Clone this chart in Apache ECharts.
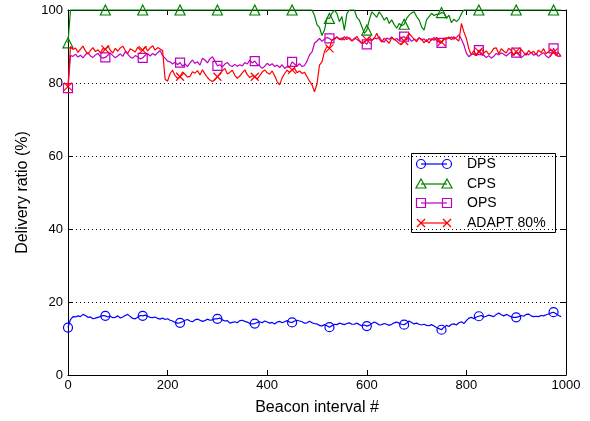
<!DOCTYPE html>
<html>
<head>
<meta charset="utf-8">
<script src="https://cdn.jsdelivr.net/npm/echarts@6/dist/echarts.min.js"></script>
<style>
  html, body { margin: 0; padding: 0; background: #fff; }
  #chart { width: 590px; height: 421px; }
</style>
</head>
<body>
<div id="chart"></div>
<script>
// Delivery ratio (%) per beacon interval, sampled every STEP intervals (0 .. 990)
const STEP = 5;

const dps = [
  13.0,15.2,16.0,15.9,16.2,16.0,16.6,16.3,15.8,15.9,
  15.4,15.6,15.8,16.0,16.3,16.2,15.9,16.1,15.7,15.8,
  16.2,15.6,15.9,16.3,16.6,16.0,15.5,15.4,15.8,16.3,
  16.2,16.4,16.1,15.8,15.7,15.9,15.5,15.3,15.6,15.2,
  15.4,15.0,14.8,14.4,14.2,14.3,14.6,15.0,15.2,14.8,
  14.6,15.1,15.3,15.0,14.7,14.9,15.3,15.0,15.1,15.4,
  15.4,15.6,15.1,14.8,14.9,14.2,14.4,14.6,14.3,14.9,
  15.0,14.7,14.5,14.1,14.0,14.1,14.4,14.6,14.3,14.8,
  14.5,14.2,14.4,14.0,14.5,14.7,14.3,14.6,14.9,14.5,
  14.4,14.8,15.0,14.8,14.6,14.2,14.3,14.7,14.3,14.1,
  14.0,13.6,13.4,13.8,13.5,13.1,13.5,13.9,13.8,14.2,
  14.0,13.8,14.1,14.3,13.9,13.9,14.2,13.8,13.5,13.7,
  13.4,13.6,14.1,14.5,14.2,13.7,13.8,14.1,13.9,13.6,
  13.9,14.3,14.5,14.2,13.9,13.8,14.2,14.8,14.4,14.0,
  14.2,13.9,13.7,13.9,13.6,13.5,13.8,13.4,13.0,12.7,
  12.4,13.1,13.6,13.3,13.9,14.0,13.7,14.3,14.6,14.1,
  14.9,15.6,15.8,15.4,15.9,16.1,16.3,15.9,16.1,16.4,
  16.2,16.0,16.6,17.0,16.5,16.2,16.6,16.3,15.9,15.8,
  15.8,16.0,16.3,16.1,16.6,16.7,16.2,16.0,16.1,16.0,
  16.3,16.2,16.5,16.7,17.0,17.2,16.8,16.3,16.0
];

const cps = [
  91.0,100,100,100,100,100,100,100,100,100,
  100,100,100,100,100,100,100,100,100,100,
  100,100,100,100,100,100,100,100,100,100,
  100,100,100,100,100,100,100,100,100,100,
  100,100,100,100,100,100,100,100,100,100,
  100,100,100,100,100,100,100,100,100,100,
  100,100,100,100,100,100,100,100,100,100,
  100,100,100,100,100,100,100,100,100,100,
  100,100,100,100,100,100,100,100,100,100,
  100,100,100,100,100,100,100,100,100,98.5,
  96.0,95.2,93.0,94.5,97.8,97.7,99.1,100,99.0,96.8,
  98.2,94.5,99.0,100,100,100,98.0,97.2,95.5,93.6,
  94.5,97.3,99.5,98.8,98.0,99.5,98.5,97.2,98.0,96.3,
  97.3,96.0,95.0,96.3,95.7,96.1,97.7,98.6,99.2,99.5,
  98.2,97.3,95.4,94.5,97.3,98.2,99.1,98.5,98.8,98.8,
  99.3,99.1,97.7,98.6,96.5,97.5,96.8,97.5,99.0,100,
  100,100,100,100,100,100,100,100,100,100,
  100,100,100,100,100,100,100,100,100,100,
  100,100,100,100,100,100,100,100,100,100,
  100,100,100,100,100,100,100,100,100
];

const ops = [
  78.6,87.5,87.3,87.9,87.1,87.6,86.9,87.8,88.3,87.4,
  87.0,87.7,88.1,87.2,86.8,87.0,87.6,88.2,87.5,86.9,
  87.4,88.0,87.3,88.6,87.9,87.1,86.8,87.5,87.2,86.6,
  86.9,87.6,88.0,87.4,88.1,87.6,88.3,88.9,87.5,86.8,
  86.0,85.8,85.2,85.7,85.0,85.6,84.6,85.2,84.5,85.5,
  86.3,85.4,85.8,84.9,86.8,86.3,85.5,86.6,87.2,86.0,
  84.7,85.0,84.4,85.2,85.6,84.8,84.5,85.1,84.6,85.0,
  84.7,85.6,85.2,86.3,85.5,86.0,85.1,84.7,84.0,84.6,
  85.4,84.8,85.3,84.5,84.9,84.2,85.0,84.0,84.5,84.3,
  85.8,85.2,84.6,85.3,84.5,84.8,86.0,87.7,88.5,90.9,
  91.5,92.2,91.4,92.0,92.5,92.2,91.6,92.3,92.6,91.9,
  92.4,91.8,92.7,92.1,91.5,92.3,92.0,91.4,90.8,91.2,
  90.6,92.0,91.6,92.4,92.1,92.7,91.5,91.2,92.3,92.0,
  92.6,91.8,92.2,91.6,92.5,92.7,91.9,92.3,91.4,92.0,
  91.7,92.4,91.8,92.1,91.3,92.2,91.7,92.5,91.6,91.2,
  91.0,92.0,92.4,92.2,92.6,92.0,92.5,93.2,92.0,90.4,
  88.1,87.2,87.8,88.0,87.5,89.0,88.2,87.6,87.0,87.5,
  86.8,87.3,88.1,87.7,88.3,87.9,87.4,88.0,88.5,87.6,
  88.3,87.8,86.9,87.5,88.2,87.7,88.4,87.6,88.0,87.3,
  87.9,88.3,87.4,86.9,87.6,89.5,88.0,87.2,87.7
];

const adapt = [
  79.0,90.0,89.2,89.6,88.4,89.3,90.1,88.8,87.9,88.9,
  89.7,88.6,89.1,88.3,89.4,89.2,90.2,89.0,88.2,89.5,
  88.7,89.6,90.1,88.9,88.1,89.4,89.0,88.5,89.8,89.1,
  89.0,90.0,88.8,89.6,90.2,89.0,89.7,89.3,88.9,81.0,
  80.5,82.6,83.5,82.0,81.3,81.7,83.0,82.4,81.6,81.8,
  83.1,82.7,83.4,82.2,83.6,82.5,81.5,80.8,80.4,80.9,
  81.7,82.6,83.3,84.0,82.5,82.9,83.5,82.1,81.3,81.9,
  82.8,83.6,82.3,81.5,82.0,81.7,81.1,82.0,83.0,83.6,
  82.8,82.4,83.3,82.0,80.4,79.5,81.4,82.6,83.5,82.9,
  83.6,84.0,82.8,83.3,82.6,82.9,81.7,80.5,79.5,77.6,
  79.8,84.9,85.8,88.6,90.0,89.5,91.8,92.0,92.6,92.1,
  91.8,92.7,91.9,92.4,91.6,92.0,92.8,91.7,90.9,91.3,
  91.8,92.6,91.7,92.2,93.6,92.0,91.2,92.3,91.6,90.9,
  92.4,92.0,91.5,90.8,90.6,91.5,92.6,93.6,92.8,92.0,
  91.3,92.4,92.0,91.0,91.9,90.9,92.2,91.7,92.5,91.3,
  91.2,92.3,92.0,92.6,91.8,92.7,92.0,91.5,96.3,94.0,
  92.2,89.3,87.7,88.9,87.5,88.6,89.3,88.2,88.8,87.8,
  88.4,89.5,89.6,88.0,89.4,88.7,88.2,89.5,88.9,87.6,
  88.6,88.1,89.2,88.4,87.6,88.9,88.2,88.7,87.7,89.0,
  88.3,89.4,88.0,88.6,89.1,88.4,87.6,88.3,87.2
];

const seriesNames = ['DPS', 'CPS', 'OPS', 'ADAPT 80%'];
const seriesValues = [dps, cps, ops, adapt];
const colors = ['#0000ff', '#008000', '#bf00bf', '#ff0000'];

// one marker every 75 beacon intervals
const MARK_EVERY = 15;
const CROSS = 'path://M0,0L10,10M10,0L0,10';
const symbols = ['circle', 'triangle', 'rect', CROSS];
const symbolSizes = [9, 10, 9, 8];

const FONT = 'Liberation Sans, Arial, sans-serif';

function toPoints(vals) {
  return vals.map((v, i) => [i * STEP, v]);
}

const axisLineStyle = { color: '#000', width: 1 };
const plainNumber = (v) => String(v);

const chart = echarts.init(document.getElementById('chart'), null, { renderer: 'canvas' });

// legend box drawn as a framed panel with sample line + two markers per entry
const LEG = { x: 411, y: 153, w: 144, h: 79, rows: [164, 184, 203, 223], x1: 421, x2: 447, tx: 467 };

function legendMarker(k, cx, cy) {
  const st = { fill: 'none', stroke: colors[k], lineWidth: 1.2 };
  if (k === 0) return { type: 'circle', shape: { cx, cy, r: 4.5 }, style: st };
  if (k === 1) return { type: 'polygon', shape: { points: [[cx, cy - 5], [cx + 5, cy + 4], [cx - 5, cy + 4]] }, style: st };
  if (k === 2) return { type: 'rect', shape: { x: cx - 4.5, y: cy - 4.5, width: 9, height: 9 }, style: st };
  return {
    type: 'group',
    children: [
      { type: 'line', shape: { x1: cx - 4, y1: cy - 4, x2: cx + 4, y2: cy + 4 }, style: { stroke: colors[k], lineWidth: 1.2 } },
      { type: 'line', shape: { x1: cx + 4, y1: cy - 4, x2: cx - 4, y2: cy + 4 }, style: { stroke: colors[k], lineWidth: 1.2 } }
    ]
  };
}

const legendElements = [{
  type: 'rect',
  shape: { x: LEG.x + 0.5, y: LEG.y + 0.5, width: LEG.w, height: LEG.h },
  style: { fill: '#fff', stroke: '#000', lineWidth: 1 }
}];
seriesNames.forEach((name, k) => {
  const cy = LEG.rows[k];
  legendElements.push({ type: 'line', shape: { x1: LEG.x1, y1: cy, x2: LEG.x2, y2: cy }, style: { stroke: colors[k], lineWidth: 1.2 } });
  legendElements.push(legendMarker(k, LEG.x1, cy));
  legendElements.push(legendMarker(k, LEG.x2, cy));
  legendElements.push({
    type: 'text',
    style: { x: LEG.tx, y: cy, text: name, fill: '#000', font: '14px ' + FONT, verticalAlign: 'middle', align: 'left' }
  });
});

const option = {
  animation: false,
  backgroundColor: '#fff',
  grid: { left: 68, right: 24, top: 10, bottom: 46, containLabel: false },
  xAxis: [
    {
      type: 'value', min: 0, max: 1000, interval: 200, position: 'bottom',
      name: 'Beacon interval #', nameLocation: 'middle', nameGap: 25,
      nameTextStyle: { color: '#000', fontSize: 16, fontFamily: FONT },
      axisLine: { show: true, onZero: false, lineStyle: axisLineStyle },
      axisTick: { show: true, inside: true, length: 5, lineStyle: axisLineStyle },
      axisLabel: { color: '#000', fontSize: 13, margin: 4, fontFamily: FONT, formatter: plainNumber },
      splitLine: { show: false }
    },
    {
      type: 'value', min: 0, max: 1000, interval: 200, position: 'top',
      axisLine: { show: true, onZero: false, lineStyle: axisLineStyle },
      axisTick: { show: true, inside: true, length: 5, lineStyle: axisLineStyle },
      axisLabel: { show: false },
      splitLine: { show: false }
    }
  ],
  yAxis: [
    {
      type: 'value', min: 0, max: 100, interval: 20, position: 'left',
      name: 'Delivery ratio (%)', nameLocation: 'middle', nameGap: 27,
      nameTextStyle: { color: '#000', fontSize: 16, fontFamily: FONT },
      axisLine: { show: true, onZero: false, lineStyle: axisLineStyle },
      axisTick: { show: true, inside: true, length: 5, lineStyle: axisLineStyle },
      axisLabel: { color: '#000', fontSize: 13, margin: 5, fontFamily: FONT, formatter: plainNumber },
      splitLine: { show: true, lineStyle: { color: '#000', width: 1, type: [1, 3] } }
    },
    {
      type: 'value', min: 0, max: 100, interval: 20, position: 'right',
      axisLine: { show: true, onZero: false, lineStyle: axisLineStyle },
      axisTick: { show: true, inside: true, length: 5, lineStyle: axisLineStyle },
      axisLabel: { show: false },
      splitLine: { show: false }
    }
  ],
  series: seriesValues.map((vals, k) => ({
    name: seriesNames[k],
    type: 'line',
    xAxisIndex: 0,
    yAxisIndex: 0,
    data: toPoints(vals),
    showAllSymbol: true,
    symbol: (value, params) => (params.dataIndex % MARK_EVERY === 0 ? symbols[k] : 'none'),
    symbolSize: symbolSizes[k],
    lineStyle: { color: colors[k], width: 1.2 },
    itemStyle: { color: 'rgba(0,0,0,0)', borderColor: colors[k], borderWidth: 1.2 },
    emphasis: { disabled: true },
    silent: true,
    clip: false,
    z: 2 + k
  })),
  graphic: { elements: [{ type: 'group', z: 100, children: legendElements }] }
};

chart.setOption(option);
</script>
</body>
</html>
